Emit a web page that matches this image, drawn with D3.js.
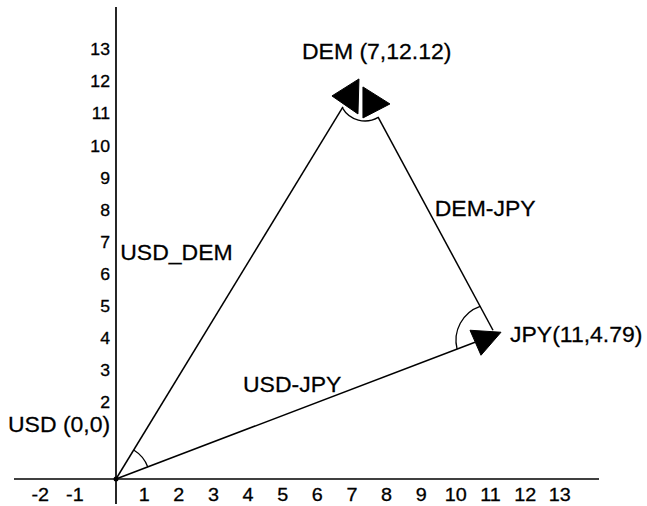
<!DOCTYPE html>
<html>
<head>
<meta charset="utf-8">
<script src="https://cdn.jsdelivr.net/npm/d3@7"></script>
<style>
  html, body { margin: 0; padding: 0; background: #fff; }
  svg { display: block; }
  text { font-family: "Liberation Sans", Arial, Helvetica, sans-serif; fill: #000; }
</style>
</head>
<body>
<svg id="chart" width="647" height="506"></svg>
<script>
// ---- data ----
const currencies = ["USD", "DEM", "JPY"];
const currencyX = [0, 7, 11];
const currencyY = [0, 12.12, 4.79];
const currencyLabels = ["USD (0,0)", "DEM (7,12.12)", "JPY(11,4.79)"];
const edgeFrom = ["USD", "DEM", "USD"];
const edgeTo = ["DEM", "JPY", "JPY"];
const edgeLabels = ["USD_DEM", "DEM-JPY", "USD-JPY"];
const xTicks = [-2, -1, 1, 2, 3, 4, 5, 6, 7, 8, 9, 10, 11, 12, 13];
const yTicks = [2, 3, 4, 5, 6, 7, 8, 9, 10, 11, 12, 13];

// ---- layout / style ----
const svg = d3.select("#chart");
const x = d3.scaleLinear().domain([0, 11]).range([116, 497]);
const y = d3.scaleLinear().domain([0, 13]).range([479, 479 - 13 * 32.1]);
const stretch = 1.07;
const fmt = d => String(d);

const P = {};
currencies.forEach((c, i) => { P[c] = [x(currencyX[i]), y(currencyY[i])]; });

// axes lines
svg.append("line").attr("x1", 14).attr("x2", 599).attr("y1", y(0)).attr("y2", y(0))
  .attr("stroke", "#000").attr("stroke-width", 1.7);
svg.append("line").attr("x1", x(0)).attr("x2", x(0)).attr("y1", 7).attr("y2", 504)
  .attr("stroke", "#000").attr("stroke-width", 1.7);

// tick labels through d3 axes
const xAxis = d3.axisBottom(x).tickValues(xTicks).tickSize(0).tickFormat(fmt);
const gx = svg.append("g").attr("transform", `translate(0,${y(0)})`).call(xAxis);
gx.select(".domain").remove();
gx.selectAll("text").attr("y", 0).attr("dy", 0).attr("x", 0)
  .attr("transform", `translate(-7,22) scale(${stretch},1)`)
  .attr("font-size", 18.5).attr("font-family", null).attr("fill", "#000")
  .attr("stroke", "#000").attr("stroke-width", 0.3);

const yAxis = d3.axisLeft(y).tickValues(yTicks).tickSize(0).tickFormat(fmt);
const gy = svg.append("g").attr("transform", `translate(${x(0)},0)`).call(yAxis);
gy.select(".domain").remove();
gy.selectAll("text").attr("x", 0).attr("dy", 0).attr("y", 0)
  .attr("transform", `translate(-6,-7) scale(${stretch},1)`)
  .attr("font-size", 16.5).attr("font-family", null).attr("fill", "#000")
  .attr("stroke", "#000").attr("stroke-width", 0.3);

// edges: endpoint offsets (px) so the lines stop at the arrow heads
const edgeStartOff = [[0, 0], [19.5, 27], [0, 0]];
const edgeEndOff = [[-15.5, 17], [-4, 5], [-22, 17]];
const segs = edgeFrom.map((f, i) => {
  const a = P[f], b = P[edgeTo[i]];
  return [[a[0] + edgeStartOff[i][0], a[1] + edgeStartOff[i][1]],
          [b[0] + edgeEndOff[i][0], b[1] + edgeEndOff[i][1]]];
});
svg.append("g").selectAll("line").data(segs).join("line")
  .attr("x1", d => d[0][0]).attr("y1", d => d[0][1])
  .attr("x2", d => d[1][0]).attr("y2", d => d[1][1])
  .attr("stroke", "#000").attr("stroke-width", 1.5);

// angle arcs at the vertices
function hit(c, r, s) {
  const [p, q] = s;
  const dx = q[0] - p[0], dy = q[1] - p[1];
  const fx = p[0] - c[0], fy = p[1] - c[1];
  const A = dx * dx + dy * dy, B = 2 * (fx * dx + fy * dy), C = fx * fx + fy * fy - r * r;
  const disc = Math.max(0, B * B - 4 * A * C);
  const t1 = (-B - Math.sqrt(disc)) / (2 * A), t2 = (-B + Math.sqrt(disc)) / (2 * A);
  const ts = [t1, t2].filter(t => t >= -0.05 && t <= 1.05);
  const t = ts.length ? ts[0] : t2;
  return [p[0] + t * dx, p[1] + t * dy];
}
const arcDefs = [
  { v: "USD", off: [0, 0], r: 34, segs: [0, 2] },
  { v: "DEM", off: [6.5, 5], r: 26, segs: [0, 1] },
  { v: "JPY", off: [-5, 15], r: 36, segs: [2, 1] }
];
arcDefs.forEach(a => {
  const c = [P[a.v][0] + a.off[0], P[a.v][1] + a.off[1]];
  const h0 = hit(c, a.r, segs[a.segs[0]]), h1 = hit(c, a.r, segs[a.segs[1]]);
  const a0 = Math.atan2(h0[1] - c[1], h0[0] - c[0]);
  let sweep = Math.atan2(h1[1] - c[1], h1[0] - c[0]) - a0;
  while (sweep > Math.PI) sweep -= 2 * Math.PI;
  while (sweep < -Math.PI) sweep += 2 * Math.PI;
  const p = d3.path();
  p.moveTo(c[0] + a.r * Math.cos(a0), c[1] + a.r * Math.sin(a0));
  p.arc(c[0], c[1], a.r, a0, a0 + sweep, sweep < 0);
  svg.append("path").attr("d", p.toString()).attr("fill", "none")
    .attr("stroke", "#000").attr("stroke-width", 1.3);
});

// arrow heads (offsets from vertex)
const heads = [
  { v: "DEM", pts: [[-26.5, 6], [0.5, -11], [-0.5, 24]] },
  { v: "DEM", pts: [[4.5, -3], [31.5, 14], [4.5, 28]] },
  { v: "JPY", pts: [[-27, 5], [4, 7], [-16, 30]] }
];
svg.append("g").selectAll("path").data(heads).join("path")
  .attr("d", h => "M" + h.pts.map(o => [P[h.v][0] + o[0], P[h.v][1] + o[1]].join(",")).join("L") + "Z")
  .attr("fill", "#000").attr("stroke", "#000").attr("stroke-width", 1);

// origin dot
svg.append("circle").attr("cx", P.USD[0]).attr("cy", P.USD[1]).attr("r", 2.5).attr("fill", "#000");

// vertex labels
const vLabOff = [[-108, -47], [-56.5, -31], [13, 17]];
svg.append("g").selectAll("text").data(currencies).join("text")
  .attr("transform", (c, i) => `translate(${P[c][0] + vLabOff[i][0]},${P[c][1] + vLabOff[i][1]}) scale(${stretch},1)`)
  .attr("font-size", 21.5).attr("stroke", "#000").attr("stroke-width", 0.25)
  .text((c, i) => currencyLabels[i]);

// edge labels (offset from segment midpoints)
const eLabOff = [[-117, -24.5], [7, 8.4], [-63.5, -10]];
svg.append("g").selectAll("text").data(edgeLabels).join("text")
  .attr("transform", (t, i) => {
    const a = P[edgeFrom[i]], b = P[edgeTo[i]];
    return `translate(${(a[0] + b[0]) / 2 + eLabOff[i][0]},${(a[1] + b[1]) / 2 + eLabOff[i][1]}) scale(${stretch},1)`;
  })
  .attr("font-size", 21.5).attr("stroke", "#000").attr("stroke-width", 0.25)
  .text(t => t);
</script>
</body>
</html>
